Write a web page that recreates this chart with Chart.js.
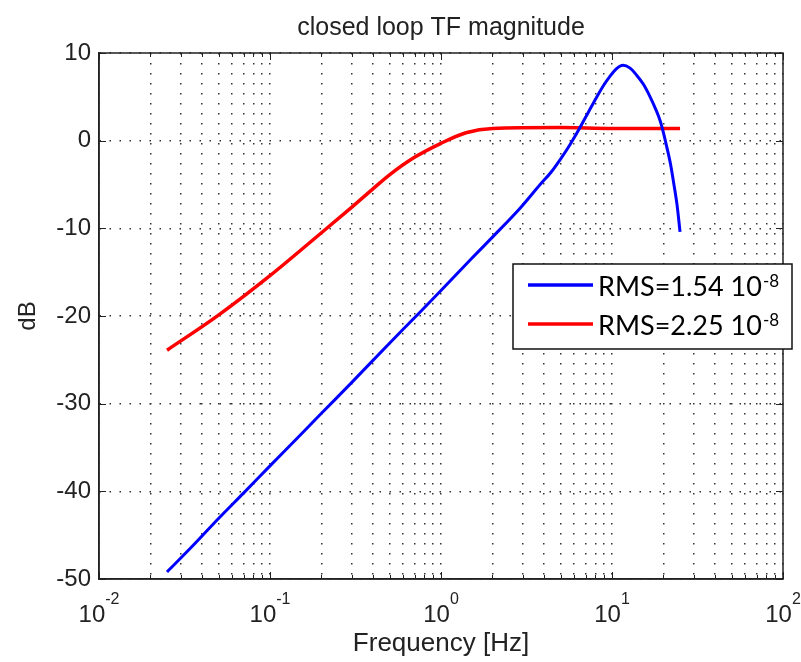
<!DOCTYPE html>
<html>
<head>
<meta charset="utf-8">
<script src="https://cdn.jsdelivr.net/npm/chart.js@4"></script>
<style>
  html, body { margin: 0; padding: 0; background: #fff; }
  #wrap { width: 801px; height: 662px; }
</style>
</head>
<body>
<div id="wrap"><canvas id="Chart"></canvas></div>
<script>
// values (Hz / dB)
const blueFreq = [0.025, 0.035, 0.05, 0.07, 0.1, 0.15, 0.2, 0.3, 0.5, 0.7, 1.0, 1.5, 2.0, 2.9, 3.8, 4.4, 5.0, 5.7, 6.5, 7.3, 8.1, 9.0, 9.7, 10.6, 11.6, 12.7, 13.9, 15.3, 16.7, 18.0, 19.1, 20.0, 20.9, 22.0, 22.8, 24.0, 25.0];
const blueDb   = [-49.2, -46.3, -43.1, -40.2, -37.1, -33.6, -31.1, -27.6, -23.1, -20.2, -17.1, -13.5, -11.0, -7.7, -5.0, -3.6, -2.1, -0.4, 1.5, 3.3, 4.9, 6.4, 7.3, 8.2, 8.6, 8.3, 7.5, 6.4, 5.0, 3.6, 2.3, 0.9, -0.7, -2.7, -4.5, -7.3, -10.4];

const redFreq = [0.025, 0.05, 0.1, 0.2, 0.3, 0.4, 0.5, 0.7, 1.0, 1.4, 2.0, 5.0, 10.0, 25.0];
const redDb   = [-23.9, -19.9, -15.4, -10.5, -7.6, -5.5, -3.9, -1.9, -0.3, 0.9, 1.4, 1.5, 1.4, 1.4];

const seriesLabels = ['RMS=1.54 10', 'RMS=2.25 10'];
const seriesExp = ['-8', '-8'];

const xGridValues = [0.01, 0.02, 0.03, 0.04, 0.05, 0.06, 0.07, 0.08, 0.09,
                     0.1, 0.2, 0.3, 0.4, 0.5, 0.6, 0.7, 0.8, 0.9,
                     1, 2, 3, 4, 5, 6, 7, 8, 9,
                     10, 20, 30, 40, 50, 60, 70, 80, 90, 100];
const xTickPowers = [-2, -1, 0, 1, 2];

const FONT = "'Liberation Sans', Arial, Helvetica, sans-serif";
const INK = '#222';

function toPoints(xs, ys) {
  return xs.map((x, i) => ({x: x, y: ys[i]}));
}

// box, minor ticks and 10^n labels like matlab
const matlabAxes = {
  id: 'matlabAxes',
  afterDraw(chart) {
    const ctx = chart.ctx;
    const a = chart.chartArea;
    const xs = chart.scales.x;
    const ys = chart.scales.y;
    ctx.save();
    ctx.strokeStyle = INK;
    ctx.lineWidth = 1.5;
    ctx.strokeRect(a.left, a.top, a.right - a.left, a.bottom - a.top);

    ctx.lineWidth = 1;
    ctx.beginPath();
    xs.ticks.forEach(t => {
      const px = Math.round(xs.getPixelForValue(t.value)) + 0.5;
      const len = xTickPowers.includes(Math.round(Math.log10(t.value) * 1000) / 1000) ? 7 : 4;
      ctx.moveTo(px, a.bottom); ctx.lineTo(px, a.bottom - len);
      ctx.moveTo(px, a.top); ctx.lineTo(px, a.top + len);
    });
    ys.ticks.forEach(t => {
      const py = Math.round(ys.getPixelForValue(t.value)) + 0.5;
      ctx.moveTo(a.left, py); ctx.lineTo(a.left + 7, py);
      ctx.moveTo(a.right, py); ctx.lineTo(a.right - 7, py);
    });
    ctx.stroke();

    ctx.fillStyle = INK;
    ctx.textBaseline = 'alphabetic';
    ctx.textAlign = 'left';
    xTickPowers.forEach(p => {
      const px = xs.getPixelForValue(Math.pow(10, p));
      ctx.font = '24px ' + FONT;
      const wb = ctx.measureText('10').width;
      ctx.font = '16px ' + FONT;
      const we = ctx.measureText(String(p)).width;
      const x0 = px - (wb + we) / 2;
      ctx.font = '24px ' + FONT;
      ctx.fillText('10', x0, a.bottom + 43);
      ctx.font = '16px ' + FONT;
      ctx.fillText(String(p), x0 + wb, a.bottom + 25);
    });
    ctx.restore();
  }
};

// legend box with superscript exponent
const rmsLegend = {
  id: 'rmsLegend',
  afterDraw(chart) {
    const ctx = chart.ctx;
    const left = 513, top = 264, w = 279, h = 85;
    ctx.save();
    ctx.fillStyle = '#fff';
    ctx.fillRect(left, top, w, h);
    ctx.strokeStyle = '#111';
    ctx.lineWidth = 1.5;
    ctx.strokeRect(left, top, w, h);
    chart.data.datasets.forEach((ds, i) => {
      const cy = top + 21 + i * 39;
      ctx.strokeStyle = ds.borderColor;
      ctx.lineWidth = 3.5;
      ctx.beginPath();
      ctx.moveTo(left + 15, cy);
      ctx.lineTo(left + 80, cy);
      ctx.stroke();
      ctx.fillStyle = '#000';
      ctx.textBaseline = 'alphabetic';
      ctx.font = '27px Lato, ' + FONT;
      ctx.fillText(seriesLabels[i], left + 85, cy + 11);
      const tw = ctx.measureText(seriesLabels[i]).width;
      ctx.font = '17px Lato, ' + FONT;
      ctx.fillText(seriesExp[i], left + 86 + tw, cy + 2);
    });
    ctx.restore();
  }
};

const ctx = document.getElementById('Chart').getContext('2d');
const myChart = new Chart(ctx, {
  type: 'line',
  data: {
    datasets: [{
      label: seriesLabels[0] + seriesExp[0],
      data: toPoints(blueFreq, blueDb),
      borderColor: '#0000ff',
      borderWidth: 3,
      pointRadius: 0,
      cubicInterpolationMode: 'monotone'
    }, {
      label: seriesLabels[1] + seriesExp[1],
      data: toPoints(redFreq, redDb),
      borderColor: '#ff0000',
      borderWidth: 3.5,
      pointRadius: 0,
      cubicInterpolationMode: 'monotone'
    }]
  },
  options: {
    responsive: true,
    maintainAspectRatio: false,
    animation: false,
    layout: { padding: { left: 0, right: 18, top: 0, bottom: 0 } },
    plugins: {
      legend: { display: false },
      tooltip: { enabled: false },
      title: {
        display: true,
        fullSize: false,
        text: 'closed loop TF magnitude',
        color: INK,
        font: { family: FONT, size: 25, weight: 'normal' },
        padding: { top: 13, bottom: 10 }
      }
    },
    scales: {
      x: {
        type: 'logarithmic',
        min: 0.01,
        max: 100,
        afterBuildTicks: (axis) => {
          axis.ticks = xGridValues.map(v => ({value: v}));
        },
        afterFit: (axis) => { axis.height = 83; },
        ticks: { display: false },
        grid: { color: '#333', lineWidth: 1.5, drawTicks: false },
        border: { display: true, color: INK, width: 1.5, dash: [1.5, 8.5] },
        title: {
          display: true,
          text: 'Frequency [Hz]',
          color: INK,
          font: { family: FONT, size: 26 },
          padding: { top: 0, bottom: 3 }
        }
      },
      y: {
        type: 'linear',
        min: -50,
        max: 10,
        afterFit: (axis) => { axis.width = 99; },
        ticks: { stepSize: 10, padding: 8, color: INK, font: { family: FONT, size: 24 } },
        grid: { color: '#333', lineWidth: 1.5, drawTicks: false },
        border: { display: true, color: INK, width: 1.5, dash: [1.5, 8.5] },
        title: {
          display: true,
          text: 'dB',
          color: INK,
          font: { family: FONT, size: 24 },
          padding: { top: 14, bottom: 0 }
        }
      }
    }
  },
  plugins: [matlabAxes, rmsLegend]
});
</script>
</body>
</html>
